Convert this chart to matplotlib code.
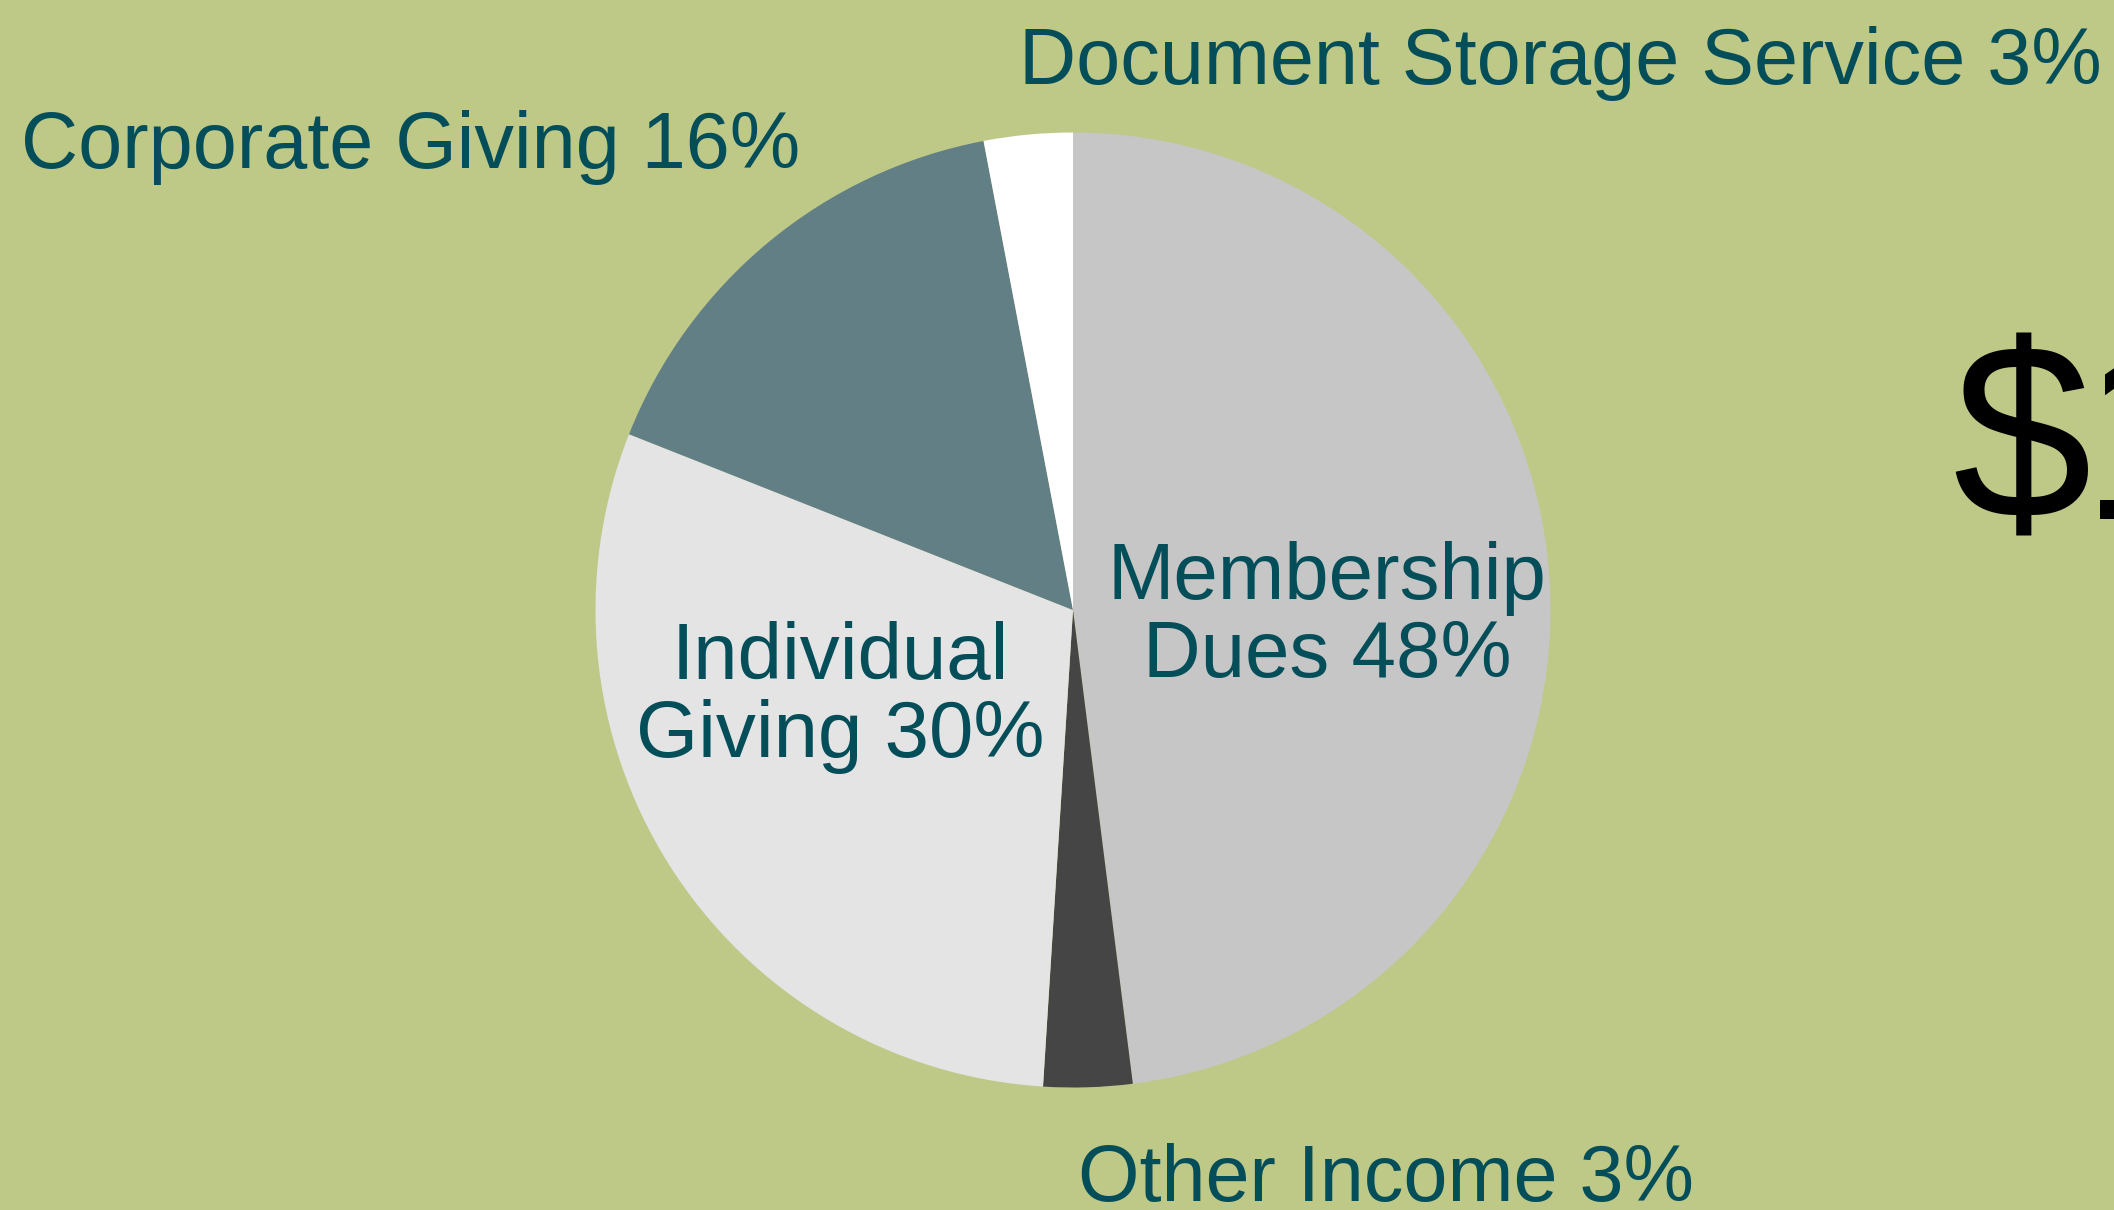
import matplotlib
matplotlib.use("Agg")
import matplotlib.pyplot as plt

categories = ["Membership Dues", "Other Income", "Individual Giving", "Corporate Giving", "Document Storage Service"]
values = [48, 3, 30, 16, 3]
colors = ["#c6c6c6", "#454545", "#e4e4e4", "#627f86", "#ffffff"]
inside_labels = ["Membership\nDues 48%", "Individual\nGiving 30%"]
outside_labels = ["Corporate Giving 16%", "Document Storage Service 3%", "Other Income 3%"]
big_text = "$1"

BG = "#bec987"
TXT = "#044e5a"
FONT = "Liberation Sans"

W, H = 2114, 1210
fig = plt.figure(figsize=(W / 100, H / 100), dpi=100, facecolor=BG)
ax = fig.add_axes([0, 0, 1, 1])
ax.set_facecolor(BG)

# y axis is inverted below, so startangle=-90 points up and counterclock=True runs clockwise on screen
ax.pie(values, colors=colors, startangle=-90, counterclock=True,
       center=(1073, 610), radius=477.5, frame=True,
       wedgeprops=dict(linewidth=0))
ax.set_xlim(0, W)
ax.set_ylim(H, 0)
ax.set_aspect("equal")
ax.axis("off")

fs = 57.5
lsp = 78

def multiline(text, x, y_first_baseline):
    for i, line in enumerate(text.split("\n")):
        ax.text(x, y_first_baseline + i * lsp, line, ha="center", va="baseline",
                fontsize=fs, color=TXT, family=FONT)

multiline(inside_labels[0], 1327, 599)
multiline(inside_labels[1], 840, 679)

ax.text(21, 168, outside_labels[0], ha="left", va="baseline", fontsize=57, color=TXT, family=FONT)
ax.text(1019, 84, outside_labels[1], ha="left", va="baseline", fontsize=57, color=TXT, family=FONT)
ax.text(1078, 1201, outside_labels[2], ha="left", va="baseline", fontsize=57, color=TXT, family=FONT)

# large total figure, cut off at the right edge as in the reference
ax.text(1952, 519, big_text[0], ha="left", va="baseline", fontsize=180, color="black", family=FONT, clip_on=False)
ax.text(2081, 519, big_text[1:], ha="left", va="baseline", fontsize=180, color="black", family=FONT, clip_on=False)

fig.savefig("out.png", dpi=100, facecolor=BG)
